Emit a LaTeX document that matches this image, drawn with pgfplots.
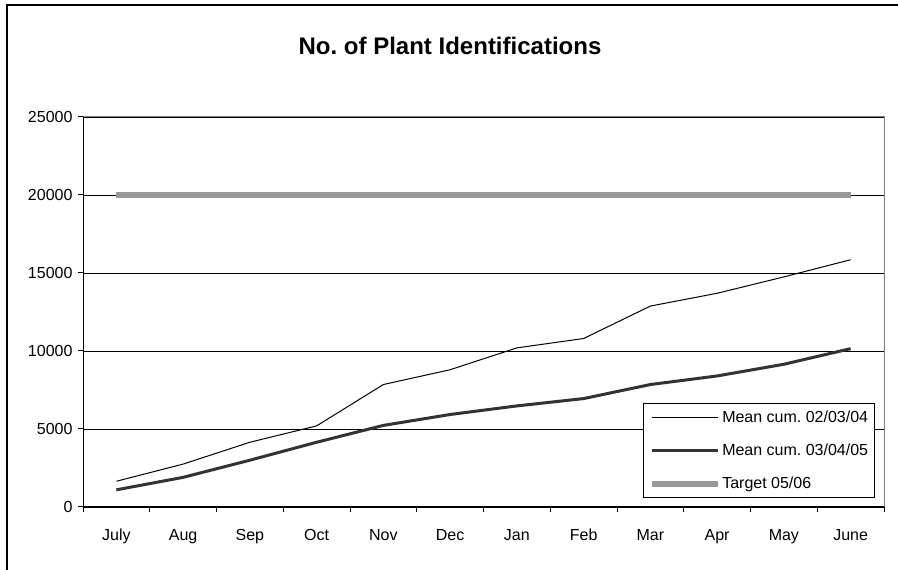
\documentclass[border=0pt]{standalone}
\usepackage{fontspec}
\setmainfont{Liberation Sans}
\usepackage{pgfplots}
\pgfplotsset{compat=1.18}
\definecolor{targetgray}{HTML}{999999}
\definecolor{darkline}{HTML}{333333}
\definecolor{bordergray}{HTML}{808080}
\frenchspacing
\begin{document}
\begin{tikzpicture}
\path[use as bounding box] (0pt,0pt) rectangle (898pt,570pt);
\fill[white] (0pt,0pt) rectangle (898pt,570pt);
\draw[line width=1.5pt] (7pt,0pt) -- (7pt,565pt) -- (898pt,565pt);
\node[font=\fontsize{24}{28}\selectfont\bfseries] at (450pt,524pt) {No. of Plant Identifications};
\begin{axis}[
  at={(83pt,63pt)}, anchor=south west,
  scale only axis, width=801pt, height=390pt,
  xmin=0.5, xmax=12.5, ymin=0, ymax=25000,
  xtick={0.5,1.5,...,12.5},
  x tick label as interval,
  xticklabels={July,Aug,Sep,Oct,Nov,Dec,Jan,Feb,Mar,Apr,May,June},
  ytick={0,5000,...,25000},
  scaled y ticks=false,
  /pgf/number format/assume math mode=true,
  /pgf/number format/1000 sep={},
  axis x line*=bottom, axis y line*=left,
  axis line style={black, line width=1pt},
  tick align=outside,
  major tick length=5pt,
  tick style={black, line width=1pt},
  ymajorgrids, major grid style={black, line width=0.8pt},
  ticklabel style={font=\fontsize{16}{19}\selectfont},
  yticklabel style={xshift=-2pt},
  xticklabel style={anchor=north, text height=12pt, text depth=4pt, yshift=-13pt},
  legend style={at={(axis description cs:0.9888,0.0231)}, anchor=south east,
    draw=black, line width=0.8pt, fill=white,
    font=\fontsize{16}{19}\selectfont,
    inner xsep=5pt, inner ysep=6pt, row sep=17pt,
    nodes={inner sep=1.5pt}},
  legend cell align=left,
  legend image code/.code={\draw[#1] (0pt,0pt) -- (66pt,0pt);},
  clip=false,
]
\draw[bordergray, line width=1pt] (rel axis cs:0,1) -- (rel axis cs:1,1) -- (rel axis cs:1,0);
\addplot[black, line width=1pt, line join=round] coordinates {
  (1,1650) (2,2750) (3,4150) (4,5200) (5,7850) (6,8800)
  (7,10200) (8,10800) (9,12880) (10,13700) (11,14750) (12,15850)};
\addlegendentry{Mean cum. 02/03/04}
\addplot[darkline, line width=3pt, line join=round] coordinates {
  (1,1100) (2,1900) (3,3000) (4,4150) (5,5230) (6,5930)
  (7,6480) (8,6950) (9,7850) (10,8400) (11,9150) (12,10150)};
\addlegendentry{Mean cum. 03/04/05}
\addplot[targetgray, line width=6pt] coordinates {
  (1,20000) (2,20000) (3,20000) (4,20000) (5,20000) (6,20000)
  (7,20000) (8,20000) (9,20000) (10,20000) (11,20000) (12,20000)};
\addlegendentry{Target 05/06}
\end{axis}
\end{tikzpicture}
\end{document}
